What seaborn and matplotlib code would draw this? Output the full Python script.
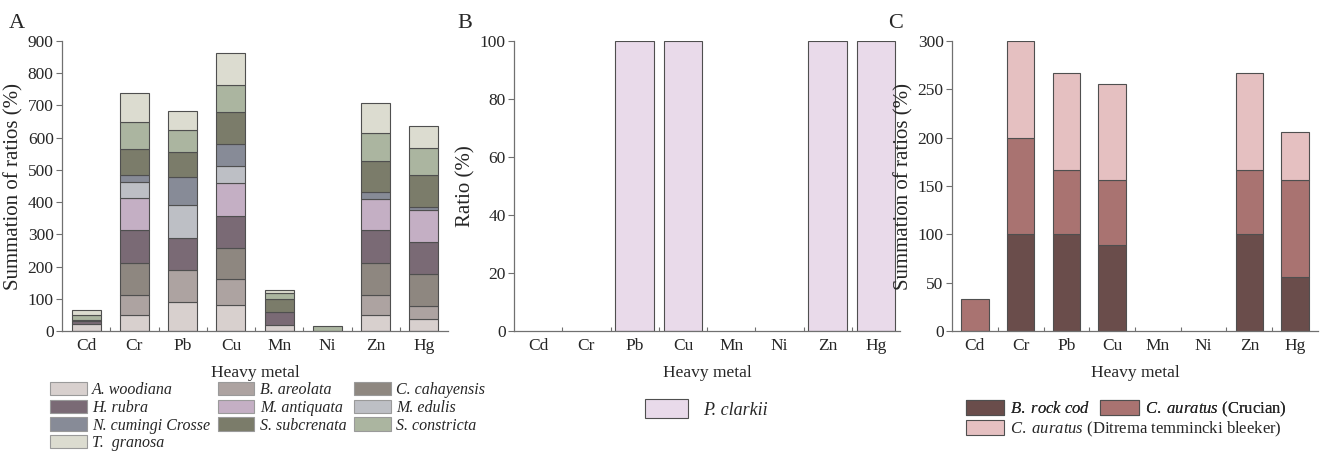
import numpy as np
import pandas as pd
import matplotlib
matplotlib.use("Agg")
import matplotlib.pyplot as plt
import seaborn as sns
from matplotlib.patches import Patch

# ---------------- data ----------------
metals = ["Cd", "Cr", "Pb", "Cu", "Mn", "Ni", "Zn", "Hg"]

# Panel A (stack order bottom -> top)
species_a = ["A. woodiana", "B. areolata", "C. cahayensis", "H. rubra", "M. antiquata",
             "M. edulis", "N. cumingi Crosse", "S. subcrenata", "S. constricta", "T.  granosa"]
a_woodiana = [21, 50, 90, 80, 19, 0, 50, 38]
b_areolata = [0, 62, 100, 80, 0, 0, 61, 41]
c_cahayensis = [0, 100, 0, 99, 0, 0, 101, 98]
h_rubra = [10, 100, 100, 99, 41, 0, 101, 100]
m_antiquata = [0, 100, 0, 101, 0, 0, 98, 98]
m_edulis = [0, 50, 100, 52, 0, 0, 0, 0]
n_cumingi = [0, 22, 88, 69, 0, 0, 19, 9]
s_subcrenata = [3, 82, 79, 101, 38, 0, 99, 101]
s_constricta = [16, 82, 66, 83, 21, 17, 85, 83]
t_granosa = [14, 92, 59, 98, 8, 0, 93, 67]
colors_a = ["#D8D0CE", "#ADA3A1", "#8E8780", "#7A6A75", "#C4AFC4",
            "#BDBFC5", "#878B97", "#7B7C6A", "#ABB5A0", "#DCDCD0"]

# Panel B
p_clarkii = [0, 0, 100, 100, 0, 0, 100, 100]

# Panel C
species_c = ["B. rock cod", "C. auratus (Crucian)", "C. auratus (Ditrema temmincki bleeker)"]
rock_cod = [0, 100, 100, 89, 0, 0, 100, 56]
crucian = [33, 100, 67, 67, 0, 0, 67, 100]
ditrema = [0, 100, 100, 100, 0, 0, 100, 50]
colors_c = ["#6A4D4B", "#A97371", "#E5C0C1"]

# ---------------- style ----------------
sns.set_theme(style="white")
plt.rcParams['font.family'] = ['Liberation Serif', 'DejaVu Serif']
plt.rcParams['mathtext.fontset'] = 'custom'
plt.rcParams['mathtext.rm'] = 'Liberation Serif'
plt.rcParams['mathtext.it'] = 'Liberation Serif:italic'

W, H = 1323, 455
fig = plt.figure(figsize=(W / 100, H / 100), dpi=100)
fig.patch.set_facecolor("white")

EDGE = "#4f4f4f"
SPINE = "#707070"


def make_ax(left, right, top=41, bottom=331):
    return fig.add_axes([left / W, 1 - bottom / H, (right - left) / W, (bottom - top) / H])


def stacked(ax, series, colors, width):
    base = np.zeros(len(metals))
    for vals, col in zip(series, colors):
        df = pd.DataFrame({"metal": metals, "value": vals})
        sns.barplot(data=df, x="metal", y="value", order=metals, color=col, saturation=1,
                    width=width, bottom=base.copy(), edgecolor=EDGE, linewidth=0.8,
                    errorbar=None, ax=ax)
        base += np.array(vals, dtype=float)
    for p in ax.patches:
        if p.get_height() == 0:
            p.set_linewidth(0)


def style(ax, ymax, step, ylabel, ylsize=15):
    ax.set_xlim(-0.5, 7.5)
    ax.set_ylim(0, ymax)
    ax.set_yticks(np.arange(0, ymax + 1, step))
    ax.set_xticks(np.arange(0.5, 7.0, 1), minor=True)
    for s in ["top", "right"]:
        ax.spines[s].set_visible(False)
    for s in ["left", "bottom"]:
        ax.spines[s].set_color(SPINE)
        ax.spines[s].set_linewidth(0.9)
    ax.tick_params(axis="y", direction="out", length=4, width=0.8, color=SPINE,
                   labelsize=12.5, pad=2, left=True)
    ax.tick_params(axis="x", which="major", length=0, labelsize=12.5, pad=5)
    ax.tick_params(axis="x", which="minor", direction="in", length=3, width=0.8,
                   color=SPINE, bottom=True)
    ax.set_xlabel("Heavy metal", fontsize=12.5, labelpad=8)
    ax.set_ylabel(ylabel, fontsize=ylsize, labelpad=3)
    ax.set_facecolor("white")


# ---------------- Panel A ----------------
axA = make_ax(62, 448)
series_a = [a_woodiana, b_areolata, c_cahayensis, h_rubra, m_antiquata,
            m_edulis, n_cumingi, s_subcrenata, s_constricta, t_granosa]
stacked(axA, series_a, colors_a, 0.6)
style(axA, 900, 100, "Summation of ratios (%)")

handles_a = [Patch(facecolor=c, edgecolor="#9a9a9a", linewidth=0.8, label=s)
             for s, c in zip(species_a, colors_a)]
order = [0, 3, 6, 9, 1, 4, 7, 2, 5, 8]
fig.legend([handles_a[i] for i in order], [species_a[i] for i in order],
           loc="upper left", bbox_to_anchor=(50 / W, 1 - 382 / H), ncol=3,
           frameon=False, prop={"style": "italic", "size": 11.5},
           handlelength=2.3, handleheight=0.9, handletextpad=0.35,
           labelspacing=0.1, columnspacing=0.45, borderaxespad=0, borderpad=0)

# ---------------- Panel B ----------------
axB = make_ax(514, 900)
stacked(axB, [p_clarkii], ["#E9DAEA"], 0.8)
style(axB, 100, 20, "Ratio (%)")
fig.legend([Patch(facecolor="#E9DAEA", edgecolor=EDGE, linewidth=0.8)], ["P. clarkii"],
           loc="center left", bbox_to_anchor=(645 / W, 1 - 409 / H), frameon=False,
           prop={"style": "italic", "size": 13}, handlelength=2.4, handleheight=1.2,
           handletextpad=0.8, borderaxespad=0, borderpad=0)

# ---------------- Panel C ----------------
axC = make_ax(952, 1318)
stacked(axC, [rock_cod, crucian, ditrema], colors_c, 0.6)
style(axC, 300, 50, "Summation of ratios (%)")

labels_c = [r"$\mathit{B.\ rock\ cod}$", r"$\mathit{C.\ auratus}$ (Crucian)",
            r"$\mathit{C.\ auratus}$ (Ditrema temmincki bleeker)"]
hc = [Patch(facecolor=c, edgecolor=EDGE, linewidth=0.8) for c in colors_c]
legC1 = fig.legend(hc[:2], labels_c[:2], loc="center left",
                   bbox_to_anchor=(966 / W, 1 - 409 / H), ncol=2, frameon=False,
                   prop={"size": 12}, handlelength=2.3, handleheight=1.0,
                   handletextpad=0.35, columnspacing=0.6, borderaxespad=0, borderpad=0)
legC2 = fig.legend(hc[2:], labels_c[2:], loc="center left",
                   bbox_to_anchor=(966 / W, 1 - 429 / H), frameon=False,
                   prop={"size": 12}, handlelength=2.3, handleheight=1.0,
                   handletextpad=0.35, borderaxespad=0, borderpad=0)
fig.add_artist(legC1)

# panel letters
fig.text(9 / W, 1 - 24 / H, "A", fontsize=16, va="center", ha="left")
fig.text(457 / W, 1 - 24 / H, "B", fontsize=16, va="center", ha="left")
fig.text(888 / W, 1 - 24 / H, "C", fontsize=16, va="center", ha="left")

fig.savefig("out.png", dpi=100, facecolor="white")
